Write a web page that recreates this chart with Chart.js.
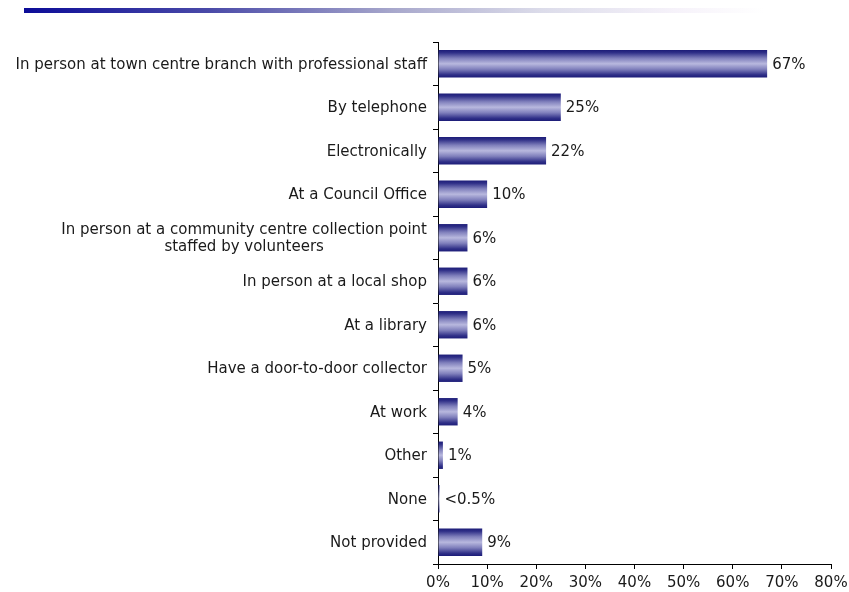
<!DOCTYPE html>
<html>
<head>
<meta charset="utf-8">
<script src="https://cdn.jsdelivr.net/npm/chart.js@4.4.1/dist/chart.umd.min.js"></script>
<style>
  html, body { margin: 0; padding: 0; background: #fff; }
  #wrap { position: relative; width: 849px; height: 592px; }
  #topBar {
    position: absolute; left: 24px; top: 8px; width: 740px; height: 5px;
    background: linear-gradient(to right, #0c0c98 0%, #4a4aa8 25%, #a8a8cc 50%, #dcdcea 70%, #f6f2fa 88%, #ffffff 100%);
  }
</style>
</head>
<body>
<div id="wrap">
  <div id="topBar"></div>
  <canvas id="methodChart" width="849" height="592"></canvas>
</div>
<script>
const categories = [
  ["In person at town centre branch with professional staff"],
  ["By telephone"],
  ["Electronically"],
  ["At a Council Office"],
  ["In person at a community centre collection point", "staffed by volunteers"],
  ["In person at a local shop"],
  ["At a library"],
  ["Have a door-to-door collector"],
  ["At work"],
  ["Other"],
  ["None"],
  ["Not provided"]
];
const percentValues = [67, 25, 22, 10, 6, 6, 6, 5, 4, 1, 0.3, 9];
const valueLabels = ["67%", "25%", "22%", "10%", "6%", "6%", "6%", "5%", "4%", "1%", "<0.5%", "9%"];
const xTicks = [0, 10, 20, 30, 40, 50, 60, 70, 80];

const FONT = "DejaVu Sans, Verdana, sans-serif";
const TEXT = "#1a1a1a";
const BAR_SHARE = 0.63;

// vertical navy -> lavender -> navy shade, one gradient per bar
function barShade(c) {
  const chart = c.chart;
  const y = chart.scales.y;
  if (!chart.chartArea || !y || c.dataIndex === undefined) return '#6a6ab0';
  const cy = y.getPixelForValue(c.dataIndex);
  const h = (y.height / categories.length) * BAR_SHARE;
  const top = cy - h / 2;
  const g = chart.ctx.createLinearGradient(0, top, 0, top + h);
  g.addColorStop(0, '#1c1c78');
  g.addColorStop(0.1, '#303088');
  g.addColorStop(0.3, '#8080bc');
  g.addColorStop(0.5, '#b8b8de');
  g.addColorStop(0.7, '#8080bc');
  g.addColorStop(0.9, '#303088');
  g.addColorStop(1, '#1c1c78');
  return g;
}

// value text after each bar, category text left of the axis
const barText = {
  id: 'barText',
  afterDatasetsDraw(chart) {
    const ctx = chart.ctx;
    ctx.save();
    ctx.font = "15px " + FONT;
    ctx.fillStyle = TEXT;
    ctx.textBaseline = 'middle';
    ctx.textAlign = 'left';
    chart.getDatasetMeta(0).data.forEach((el, i) => {
      ctx.fillText(valueLabels[i], el.x + 5, el.y + 1);
    });

    const yScale = chart.scales.y;
    const right = chart.chartArea.left - 11;
    const lineH = 16.5;
    ctx.textAlign = 'center';
    categories.forEach((lines, i) => {
      const cy = yScale.getPixelForValue(i);
      const w = Math.max(...lines.map(l => ctx.measureText(l).width));
      const cx = right - w / 2;
      const y0 = cy - (lines.length - 1) * lineH / 2 + 1;
      lines.forEach((l, j) => ctx.fillText(l, cx, y0 + j * lineH));
    });
    ctx.restore();
  }
};

new Chart(document.getElementById('methodChart'), {
  type: 'bar',
  data: {
    labels: categories.map(c => c.join(' ')),
    datasets: [{
      data: percentValues,
      backgroundColor: barShade,
      borderWidth: 0,
      categoryPercentage: BAR_SHARE,
      barPercentage: 1
    }]
  },
  options: {
    indexAxis: 'y',
    responsive: false,
    animation: false,
    events: [],
    layout: { padding: { top: 42, right: 0, left: 0, bottom: 2 } },
    plugins: { legend: { display: false }, tooltip: { enabled: false } },
    scales: {
      x: {
        min: 0, max: 80,
        afterBuildTicks: s => { s.ticks = xTicks.map(v => ({ value: v })); },
        afterFit: s => { s.height = 26; s.paddingRight = 18; },
        grid: { drawOnChartArea: false, tickLength: 5, color: '#000' },
        border: { color: '#000', width: 1 },
        ticks: {
          color: TEXT, padding: 5,
          font: { family: FONT, size: 15 },
          callback: v => v + '%'
        }
      },
      y: {
        afterFit: s => { s.width = 438; },
        grid: { drawOnChartArea: false, tickLength: 5, color: '#000', offset: true },
        border: { color: '#000', width: 1 },
        ticks: { display: false }
      }
    }
  },
  plugins: [barText]
});
</script>
</body>
</html>
